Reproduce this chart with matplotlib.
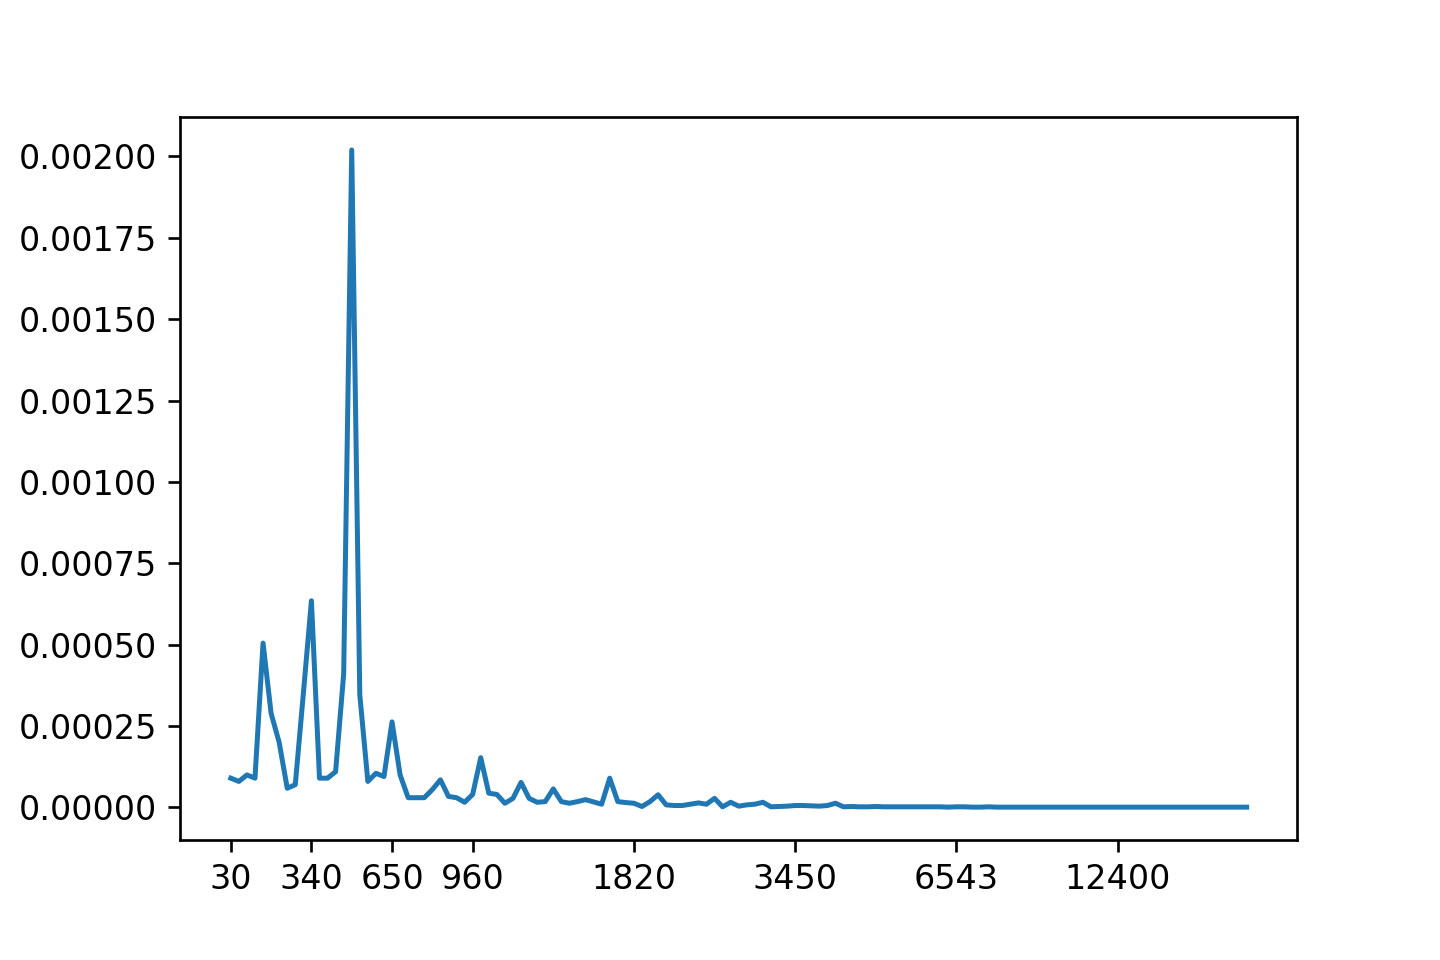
import matplotlib
matplotlib.use("Agg")
from matplotlib import pyplot as plt
import numpy as np

# density per bin (in units of 1e-5)
density_e5 = [
    9.0, 8.0, 10.0, 9.0, 50.5, 28.9, 20.0, 5.9, 7.0, 35.0,
    63.5, 9.0, 9.0, 11.0, 41.0, 202.0, 34.6, 8.0, 10.5, 9.5,
    26.3, 10.0, 3.0, 3.0, 3.0, 5.5, 8.5, 3.4, 3.0, 1.6,
    4.0, 15.3, 4.4, 4.0, 1.3, 2.8, 7.7, 2.8, 1.6, 1.8,
    5.7, 1.8, 1.3, 1.8, 2.4, 1.7, 1.0, 9.0, 1.8, 1.5,
    1.3, 0.3, 1.8, 3.9, 0.8, 0.6, 0.6, 1.0, 1.4, 1.0,
    2.8, 0.2, 1.6, 0.4, 0.8, 1.0, 1.6, 0.2, 0.3, 0.4,
    0.6, 0.6, 0.5, 0.4, 0.6, 1.3, 0.2, 0.3, 0.2, 0.2,
    0.3, 0.2, 0.2, 0.2, 0.2, 0.2, 0.2, 0.2, 0.2, 0.1,
    0.2, 0.2, 0.1, 0.1, 0.2, 0.1, 0.1, 0.1, 0.1, 0.1,
    0.1, 0.1, 0.1, 0.1, 0.1, 0.1, 0.1, 0.1, 0.1, 0.1,
    0.1, 0.1, 0.1, 0.1, 0.1, 0.1, 0.1, 0.1, 0.1, 0.1,
    0.1, 0.1, 0.1, 0.1, 0.1, 0.1, 0.1,
]
tick_positions = [0, 10, 20, 30, 50, 70, 90, 110]
tick_labels = ["30", "340", "650", "960", "1820", "3450", "6543", "12400"]

density = np.array(density_e5) * 1e-5

fig = plt.figure(figsize=(6, 4), dpi=240)
ax = fig.add_axes([0.125, 0.125, 0.776, 0.753])
ax.plot(np.arange(len(density)), density)
ax.set_xticks(tick_positions)
ax.set_xticklabels(tick_labels)

fig.savefig("out.png", dpi=240)
